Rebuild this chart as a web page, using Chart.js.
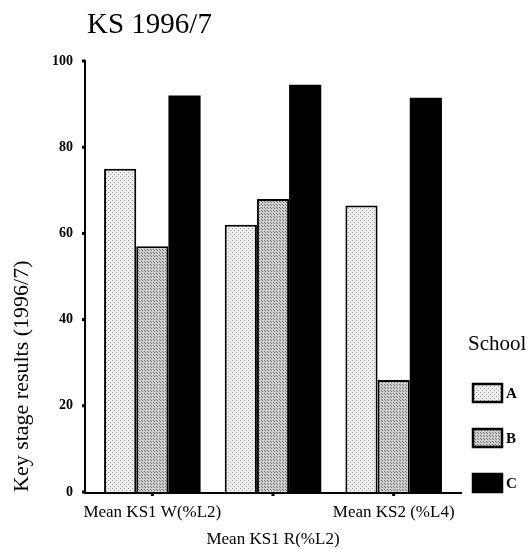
<!DOCTYPE html>
<html>
<head>
<meta charset="utf-8">
<script src="https://cdn.jsdelivr.net/npm/chart.js@4"></script>
<style>
  body { margin: 0; background: #fff; }
  #wrap { width: 530px; height: 549px; }
</style>
</head>
<body>
<div id="wrap"><canvas id="ksChart" width="530" height="549"></canvas></div>
<script>
// chart data
const categories = [
    ['Mean KS1 W(%L2)'],
    ['', 'Mean KS1 R(%L2)'],
    ['Mean KS2 (%L4)']
];
const schools = ['A', 'B', 'C'];
const schoolA = [75, 62, 66.5];
const schoolB = [57, 68, 26];
const schoolC = [92, 94.5, 91.5];
const yTicks = [0, 20, 40, 60, 80, 100];

const serif = '"Liberation Serif", "Times New Roman", serif';

// halftone-ish fills like the scanned original
function makePattern(bg, fg, step) {
    const c = document.createElement('canvas');
    c.width = step;
    c.height = step;
    const g = c.getContext('2d');
    g.fillStyle = bg;
    g.fillRect(0, 0, step, step);
    g.fillStyle = fg;
    g.fillRect(0, 0, 1, 1);
    g.fillRect(Math.floor(step / 2), Math.floor(step / 2), 1, 1);
    return g.createPattern(c, 'repeat');
}

const fillA = makePattern('#eeeeee', '#9a9a9a', 4);
const fillB = makePattern('#cfcfcf', '#707070', 3);

const extras = {
    id: 'extras',
    afterDraw(chart) {
        const ctx = chart.ctx;
        const x = chart.scales.x;
        const y = chart.scales.y;
        const area = chart.chartArea;
        ctx.save();

        // title
        ctx.fillStyle = '#000';
        ctx.font = '29px ' + serif;
        ctx.textAlign = 'left';
        ctx.textBaseline = 'alphabetic';
        ctx.fillText('KS 1996/7', 87, 33);

        // axes
        ctx.strokeStyle = '#000';
        ctx.lineWidth = 2;
        ctx.beginPath();
        ctx.moveTo(85, y.getPixelForValue(100) - 1);
        ctx.lineTo(85, area.bottom + 1);
        ctx.lineTo(462, area.bottom + 1);
        ctx.stroke();

        // tick marks
        yTicks.forEach(v => {
            const py = y.getPixelForValue(v);
            ctx.fillRect(82, py - 1.5, 3, 3);
        });
        categories.forEach((c, i) => {
            const px = x.getPixelForValue(i);
            ctx.fillRect(px - 1.5, area.bottom + 1, 3, 3);
        });

        // legend
        ctx.font = '21px ' + serif;
        ctx.fillText('School', 468, 350);
        ctx.font = 'bold 15px ' + serif;
        ctx.textBaseline = 'middle';
        chart.data.datasets.forEach((ds, i) => {
            const top = 383 + i * 45;
            ctx.fillStyle = ds.backgroundColor;
            ctx.fillRect(472, top, 31, 20);
            ctx.lineWidth = 2.5;
            ctx.strokeStyle = '#000';
            ctx.strokeRect(473, top + 1, 29, 18);
            ctx.fillStyle = '#000';
            ctx.fillText(ds.label, 506, top + 11);
        });
        ctx.restore();
    }
};

const ctx = document.getElementById('ksChart');
new Chart(ctx, {
    type: 'bar',
    data: {
        labels: categories,
        datasets: [
            { label: schools[0], data: schoolA, backgroundColor: fillA, borderColor: '#000', borderWidth: 2 },
            { label: schools[1], data: schoolB, backgroundColor: fillB, borderColor: '#000', borderWidth: 2 },
            { label: schools[2], data: schoolC, backgroundColor: '#000', borderColor: '#000', borderWidth: 0 }
        ]
    },
    options: {
        responsive: false,
        animation: false,
        layout: { padding: { top: 61, right: 76, bottom: 0, left: 0 } },
        categoryPercentage: 0.8,
        barPercentage: 1.0,
        plugins: {
            legend: { display: false },
            title: { display: false },
            tooltip: { enabled: false }
        },
        scales: {
            x: {
                grid: { display: false, drawTicks: false },
                border: { display: false },
                ticks: {
                    color: '#000',
                    font: { family: serif, size: 17, lineHeight: 1.6 },
                    padding: 7,
                    maxRotation: 0,
                    autoSkip: false
                },
                afterFit(scale) { scale.height = 57; }
            },
            y: {
                min: 0,
                max: 100,
                afterBuildTicks(scale) { scale.ticks = yTicks.map(v => ({ value: v })); },
                grid: { display: false, drawTicks: false },
                border: { display: false },
                ticks: {
                    color: '#000',
                    font: { family: serif, size: 14, weight: 'bold' },
                    padding: 19
                },
                title: {
                    display: true,
                    text: 'Key stage results (1996/7)',
                    align: 'start',
                    color: '#000',
                    font: { family: serif, size: 22 },
                    padding: { top: 9, bottom: 0 }
                },
                afterFit(scale) { scale.width = 92; }
            }
        }
    },
    plugins: [extras]
});
</script>
</body>
</html>
